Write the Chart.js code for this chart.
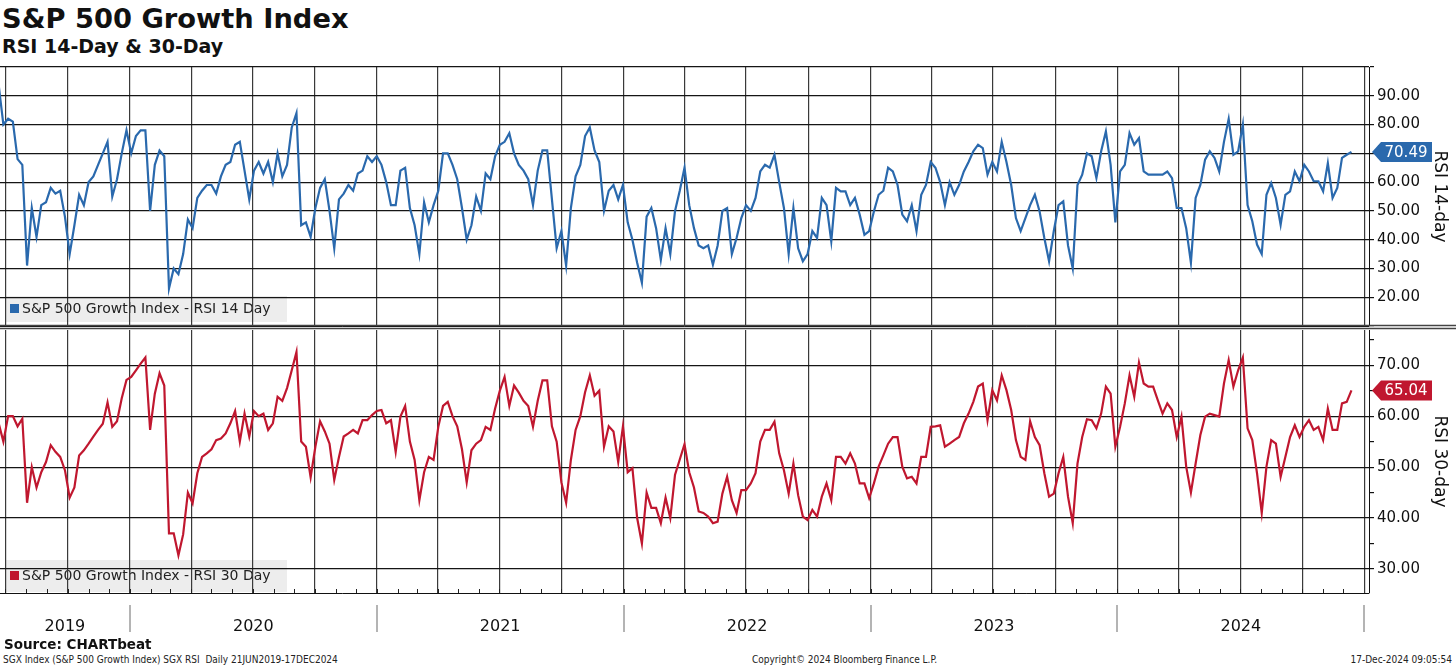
<!DOCTYPE html>
<html>
<head>
<meta charset="utf-8">
<script src="https://cdn.jsdelivr.net/npm/chart.js@4.4.1/dist/chart.umd.min.js"></script>
<style>
  body { margin: 0; background: #fff; width: 1456px; height: 666px; overflow: hidden; position: relative; font-family: "DejaVu Sans", Verdana, sans-serif; color: #111; }
  .txt { position: absolute; white-space: nowrap; line-height: 1; }
  #title { left: 2px; top: 5px; font-weight: bold; font-size: 27.3px; }
  #sub { left: 2px; top: 37px; font-weight: bold; font-size: 19px; }
  #source { left: 4px; top: 638px; font-weight: bold; font-size: 13.5px; }
  .foot { top: 655px; font-size: 10px; font-family: "Liberation Sans Narrow", "DejaVu Sans Condensed", sans-serif; color: #222; }
  #w1 { position: absolute; left: 0; top: 60px; }
  #w2 { position: absolute; left: 0; top: 326px; }
</style>
</head>
<body>
<div id="title" class="txt">S&amp;P 500 Growth Index</div>
<div id="sub" class="txt">RSI 14-Day &amp; 30-Day</div>
<div id="w1"><canvas id="c1" width="1456" height="270"></canvas></div>
<div id="w2"><canvas id="c2" width="1456" height="314"></canvas></div>
<div id="source" class="txt">Source: CHARTbeat</div>
<div class="txt foot" style="left:3px">SGX Index (S&amp;P 500 Growth Index) SGX RSI&nbsp; Daily 21JUN2019-17DEC2024</div>
<div class="txt foot" style="left:752px">Copyright© 2024 Bloomberg Finance L.P.</div>
<div class="txt foot" style="right:4px">17-Dec-2024 09:05:54</div>
<script>
// weekly readings, first one 21 Jun 2019
const startDate = Date.UTC(2019, 5, 21);

const rsi14 = [
  93.8, 80, 82, 81, 68, 66, 31, 51, 41, 52,
  53, 58, 56, 57, 48, 35, 45, 55.6, 52, 60,
  62, 66, 70, 74, 55, 61, 70, 78, 70, 76,
  78, 78, 50, 66, 71, 69, 23, 30, 28, 35,
  47, 44, 54.5, 57, 59, 59, 56, 62, 66, 67,
  73, 74, 64, 54, 64, 67, 63, 67, 60, 70,
  62, 66, 79, 84, 45, 46, 41, 51, 58, 61,
  50, 37, 54, 56, 59, 57, 63, 64, 69, 67,
  69, 66, 60, 52, 52, 64, 65, 51, 45, 35,
  53, 46, 52, 57, 70, 70, 66, 61, 51, 40,
  45, 55, 50, 63, 61, 69, 73, 74, 77, 70,
  66, 64, 61, 52, 64, 71, 71, 54, 37, 43,
  31, 51, 62, 66, 76, 79, 71, 67, 50, 57,
  59, 54, 59, 46, 40, 32, 25, 48, 51, 44,
  33, 44, 35, 50, 57, 65, 52,
  44, 38, 37, 38, 31.3, 38, 50, 51, 35, 40.6,
  47.5, 52, 50, 54.5, 63.7, 66, 65, 69.5, 60, 51,
  35, 51, 37, 32.5, 35, 43, 40.6, 54.5, 52, 39.4,
  58, 56.8, 56.8, 52, 54.5, 48.7, 41.7, 43, 49.8, 55.6,
  57, 65, 63.7, 59, 48.7, 46.4, 52, 43, 55.6, 59,
  67, 65, 60, 52, 60, 55.6, 59, 63.7, 67, 70.7,
  73, 71.8, 62.6, 67, 63.7, 74, 67, 59, 47.5, 43,
  47.5, 52, 55.6, 49.8, 40.6, 32.5, 43, 52, 53.3, 38,
  30, 59, 62.6, 70, 69, 61.4, 70.7, 77.6, 66, 46,
  63.7, 66, 77, 73, 75.3, 63.7, 62.6, 62.6, 62.6, 62.6,
  63.7, 61.4, 51, 51, 44, 32, 54.5, 59, 67.8, 70.7,
  68.4, 63.7, 74, 82, 69.5, 70.7, 80, 52, 46.4, 38.3,
  35, 55.6, 59.7, 54.5, 45.2, 55.6, 56.8, 63.7, 60.3, 66,
  63.7, 60.3, 60.3, 56.8, 66.6, 54.5, 58, 68.4, 69.5, 70.49
];

const rsi30 = [
  58.6, 55, 60, 60, 58, 59.5, 43, 50, 46, 49,
  51, 54.3, 53, 52, 49.4, 44, 46, 52.3, 53.3, 54.6,
  56, 57.3, 58.5, 62.7, 57.9, 59, 63.5, 67.1, 67.7, 69,
  70.3, 71.5, 57.3, 64.4, 68.4, 66, 37, 37, 32.7, 36.8,
  45, 42.9, 48.8, 52, 52.7, 53.5, 55.3, 55.6, 56.6, 58.6,
  61, 55, 60.5, 56, 61, 60, 60.5, 57.3, 58.6, 63.8,
  63, 65.5, 69, 72.6, 55, 54, 48, 54, 59, 57,
  54.6, 47.5, 52, 56, 56.6, 57.3, 56.6, 59.2, 59.2, 60.2,
  61, 61.2, 58.6, 59.2, 53, 59.9, 62, 55, 51.4, 43.5,
  49, 52, 51.4, 57.9, 62, 62.8, 60, 58, 53.5, 47,
  53.3, 54.6, 55.3, 57.9, 57.3, 61.5, 65, 67.7, 62, 66,
  64.6, 63, 62, 57.9, 63, 67, 67, 58, 55, 47,
  43, 51.4, 57.3, 60, 64.7, 68, 64, 65, 54, 58,
  57, 51, 58, 49, 49.8, 40, 35, 45, 42, 42,
  39, 44, 40, 48.5, 51.5, 54.5, 49,
  46, 41.3, 41, 40.3, 39, 39.3, 44.8, 48.1, 43.5, 41,
  45.5, 45.5, 46.8, 48.8, 55, 57.3, 57.3, 58.9, 52.7, 49.4,
  44.8, 50.7, 44.5, 40.3, 39.6, 41.6, 40.3, 44.2, 46.8, 43.5,
  52, 52, 50.7, 52.7, 50.7, 46.8, 46.8, 43.9, 46.8, 50.1,
  52.3, 54.6, 55.9, 55.9, 50.1, 47.8, 48.1, 46.8, 52, 52,
  57.9, 58, 58.2, 54, 54.6, 55.3, 55.9, 58.6, 60.5, 62.8,
  65.8, 66.4, 59.2, 65.1, 63.1, 68, 65.1, 61.2, 55.3, 52,
  51.4, 59, 55.9, 54.3, 48.8, 44.2, 44.8, 48.8, 52, 44.2,
  39, 50.7, 55.9, 59.4, 59.2, 57.6, 60.5, 65.8, 64.4, 54,
  57.9, 62.5, 68, 63.8, 70.5, 66.4, 65.8, 65.8, 63.1, 60.5,
  62.5, 61.2, 55.9, 59.9, 50.1, 45, 50.7, 56.3, 59.9, 60.5,
  60.2, 59.9, 66.4, 71, 65.8, 69, 71.5, 57.6, 55.3, 48.8,
  41, 50.1, 55.3, 54.6, 48.1, 52, 55.9, 58.2, 55.9, 57.9,
  59.2, 57.3, 57.9, 55.3, 61.5, 57.3, 57.3, 62.5, 62.8, 65.04
];

const yearLabels = ['2019', '2020', '2021', '2022', '2023', '2024'];
const ticks14 = [20, 30, 40, 50, 60, 70, 80, 90];
const ticks30 = [30, 40, 50, 60, 70];

const blue = '#2a69ad';
const red = '#c0172f';

function decYear(ms) {
  const d = new Date(ms);
  const y = d.getUTCFullYear();
  const a = Date.UTC(y, 0, 1), b = Date.UTC(y + 1, 0, 1);
  return y + (ms - a) / (b - a);
}

const xs = rsi14.map((v, i) => decYear(startDate + i * 7 * 86400000));
const xMin = decYear(Date.UTC(2019, 5, 23));
const xMax = decYear(Date.UTC(2025, 0, 8));

const quarterTicks = [];
for (let y = 2019; y <= 2025; y++) {
  for (let m = 0; m < 12; m += 3) {
    const v = decYear(Date.UTC(y, m, 1));
    if (v > xMin && v < xMax) quarterTicks.push(v);
  }
}

Chart.defaults.font.family = '"DejaVu Sans", Verdana, sans-serif';
Chart.defaults.color = '#111';

function panelPlugin(label, color, boxTop, boxH) {
  return {
    id: 'panel',
    beforeDraw(chart) {
      const c = chart.ctx;
      c.save();
      c.fillStyle = '#ededed';
      c.fillRect(5, boxTop, 282, boxH);
      c.fillStyle = color;
      const mid = boxTop + boxH / 2;
      c.fillRect(10, mid - 5, 9, 9);
      c.fillStyle = '#222';
      c.font = '14px "DejaVu Sans"';
      c.textBaseline = 'middle';
      c.fillText(label, 22, mid);
      c.restore();
    },
    afterDraw(chart) {
      // last value tag on the axis
      const c = chart.ctx;
      const ds = chart.data.datasets[0].data;
      const last = ds[ds.length - 1].y;
      const y = chart.scales.y.getPixelForValue(last);
      const x0 = chart.chartArea.right + 3;
      c.save();
      c.fillStyle = color;
      c.beginPath();
      c.moveTo(x0, y);
      c.lineTo(x0 + 9, y - 10);
      c.lineTo(x0 + 60, y - 10);
      c.lineTo(x0 + 60, y + 10);
      c.lineTo(x0 + 9, y + 10);
      c.closePath();
      c.fill();
      c.fillStyle = '#fff';
      c.font = '15px "DejaVu Sans"';
      c.textBaseline = 'middle';
      c.textAlign = 'center';
      c.fillText(last.toFixed(2), x0 + 34, y + 1);
      c.restore();
    }
  };
}

function makeOptions(yMin, yMax, labelTicks, title, xHeight) {
  return {
    responsive: false,
    animation: false,
    devicePixelRatio: 1,
    layout: { padding: { top: xHeight ? 4 : 7, bottom: xHeight ? 0 : 4, left: 0, right: 0 } },
    plugins: { legend: { display: false }, tooltip: { enabled: false } },
    scales: {
      x: {
        type: 'linear',
        min: xMin,
        max: xMax,
        afterBuildTicks: s => { s.ticks = quarterTicks.map(v => ({ value: v })); },
        afterFit: s => { s.height = xHeight; s.paddingLeft = 0; s.paddingRight = 0; },
        ticks: { display: false },
        grid: { color: '#3a3a3a', lineWidth: 1.2, drawTicks: false },
        border: { display: true, color: '#111', width: 1 }
      },
      y: {
        position: 'right',
        min: yMin,
        max: yMax,
        afterBuildTicks: s => {
          const t = [];
          for (let v = Math.ceil(yMin / 5) * 5; v <= yMax; v += 5) t.push({ value: v });
          s.ticks = t;
        },
        afterFit: s => { s.width = 87; s.paddingTop = 0; s.paddingBottom = 0; },
        ticks: {
          padding: 3,
          font: { size: 15 },
          color: '#111',
          callback: v => labelTicks.includes(v) ? v.toFixed(2) : ''
        },
        grid: {
          color: ctx => (ctx.tick && ctx.tick.value % 10 === 0) ? '#151515' : 'rgba(0,0,0,0)',
          lineWidth: 1.2,
          tickColor: '#111',
          tickLength: 5
        },
        border: { display: true, color: '#111', width: 1 },
        title: {
          display: true,
          text: title,
          font: { size: 17 },
          color: '#111',
          padding: { top: 6, bottom: 0 }
        }
      }
    }
  };
}

const dividerPlugin = {
  id: 'divider',
  afterDraw(chart) {
    const c = chart.ctx;
    const b = chart.chartArea.bottom;
    c.save();
    c.strokeStyle = '#444';
    c.lineWidth = 1.6;
    c.beginPath();
    c.moveTo(0, b - 0.5); c.lineTo(1456, b - 0.5);
    c.moveTo(0, b + 2.5); c.lineTo(1456, b + 2.5);
    c.stroke();
    c.restore();
  }
};

const yearAxisPlugin = {
  id: 'yearAxis',
  afterDraw(chart) {
    const c = chart.ctx;
    const xs = chart.scales.x;
    const area = chart.chartArea;
    c.save();
    // month marks along the bottom edge
    c.strokeStyle = '#222';
    c.lineWidth = 1;
    c.beginPath();
    for (let y = 2019; y <= 2024; y++) {
      for (let m = 0; m < 12; m++) {
        const v = decYear(Date.UTC(y, m, 1));
        if (v <= xMin || v >= xMax) continue;
        const px = Math.round(xs.getPixelForValue(v)) + 0.5;
        c.moveTo(px, area.bottom);
        c.lineTo(px, area.bottom - 4);
      }
    }
    c.stroke();
    // year separators and labels
    c.strokeStyle = '#b4b4b4';
    c.lineWidth = 2;
    c.fillStyle = '#111';
    c.font = '16px "DejaVu Sans"';
    c.textAlign = 'center';
    c.textBaseline = 'alphabetic';
    yearLabels.forEach(lbl => {
      const yr = +lbl;
      const mid = (xs.getPixelForValue(Math.max(xMin, yr)) + xs.getPixelForValue(yr + 1)) / 2;
      c.fillText(lbl, mid, area.bottom + 38);
      const sx = Math.round(xs.getPixelForValue(yr + 1));
      c.beginPath();
      c.moveTo(sx, area.bottom + 12);
      c.lineTo(sx, area.bottom + 39);
      c.stroke();
    });
    c.restore();
  }
};

new Chart(document.getElementById('c1'), {
  type: 'line',
  data: {
    datasets: [{
      data: rsi14.map((v, i) => ({ x: xs[i], y: v })),
      borderColor: blue,
      borderWidth: 2.2,
      pointRadius: 0,
      tension: 0
    }]
  },
  options: makeOptions(10, 100, ticks14, 'RSI 14-day', 0),
  plugins: [panelPlugin('S&P 500 Growth Index - RSI 14 Day', blue, 236, 26), dividerPlugin]
});

new Chart(document.getElementById('c2'), {
  type: 'line',
  data: {
    datasets: [{
      data: rsi30.map((v, i) => ({ x: xs[i], y: v })),
      borderColor: red,
      borderWidth: 2.2,
      pointRadius: 0,
      tension: 0
    }]
  },
  options: makeOptions(25.3, 76.9, ticks30, 'RSI 30-day', 47),
  plugins: [panelPlugin('S&P 500 Growth Index - RSI 30 Day', red, 234, 32), yearAxisPlugin]
});
</script>
</body>
</html>
